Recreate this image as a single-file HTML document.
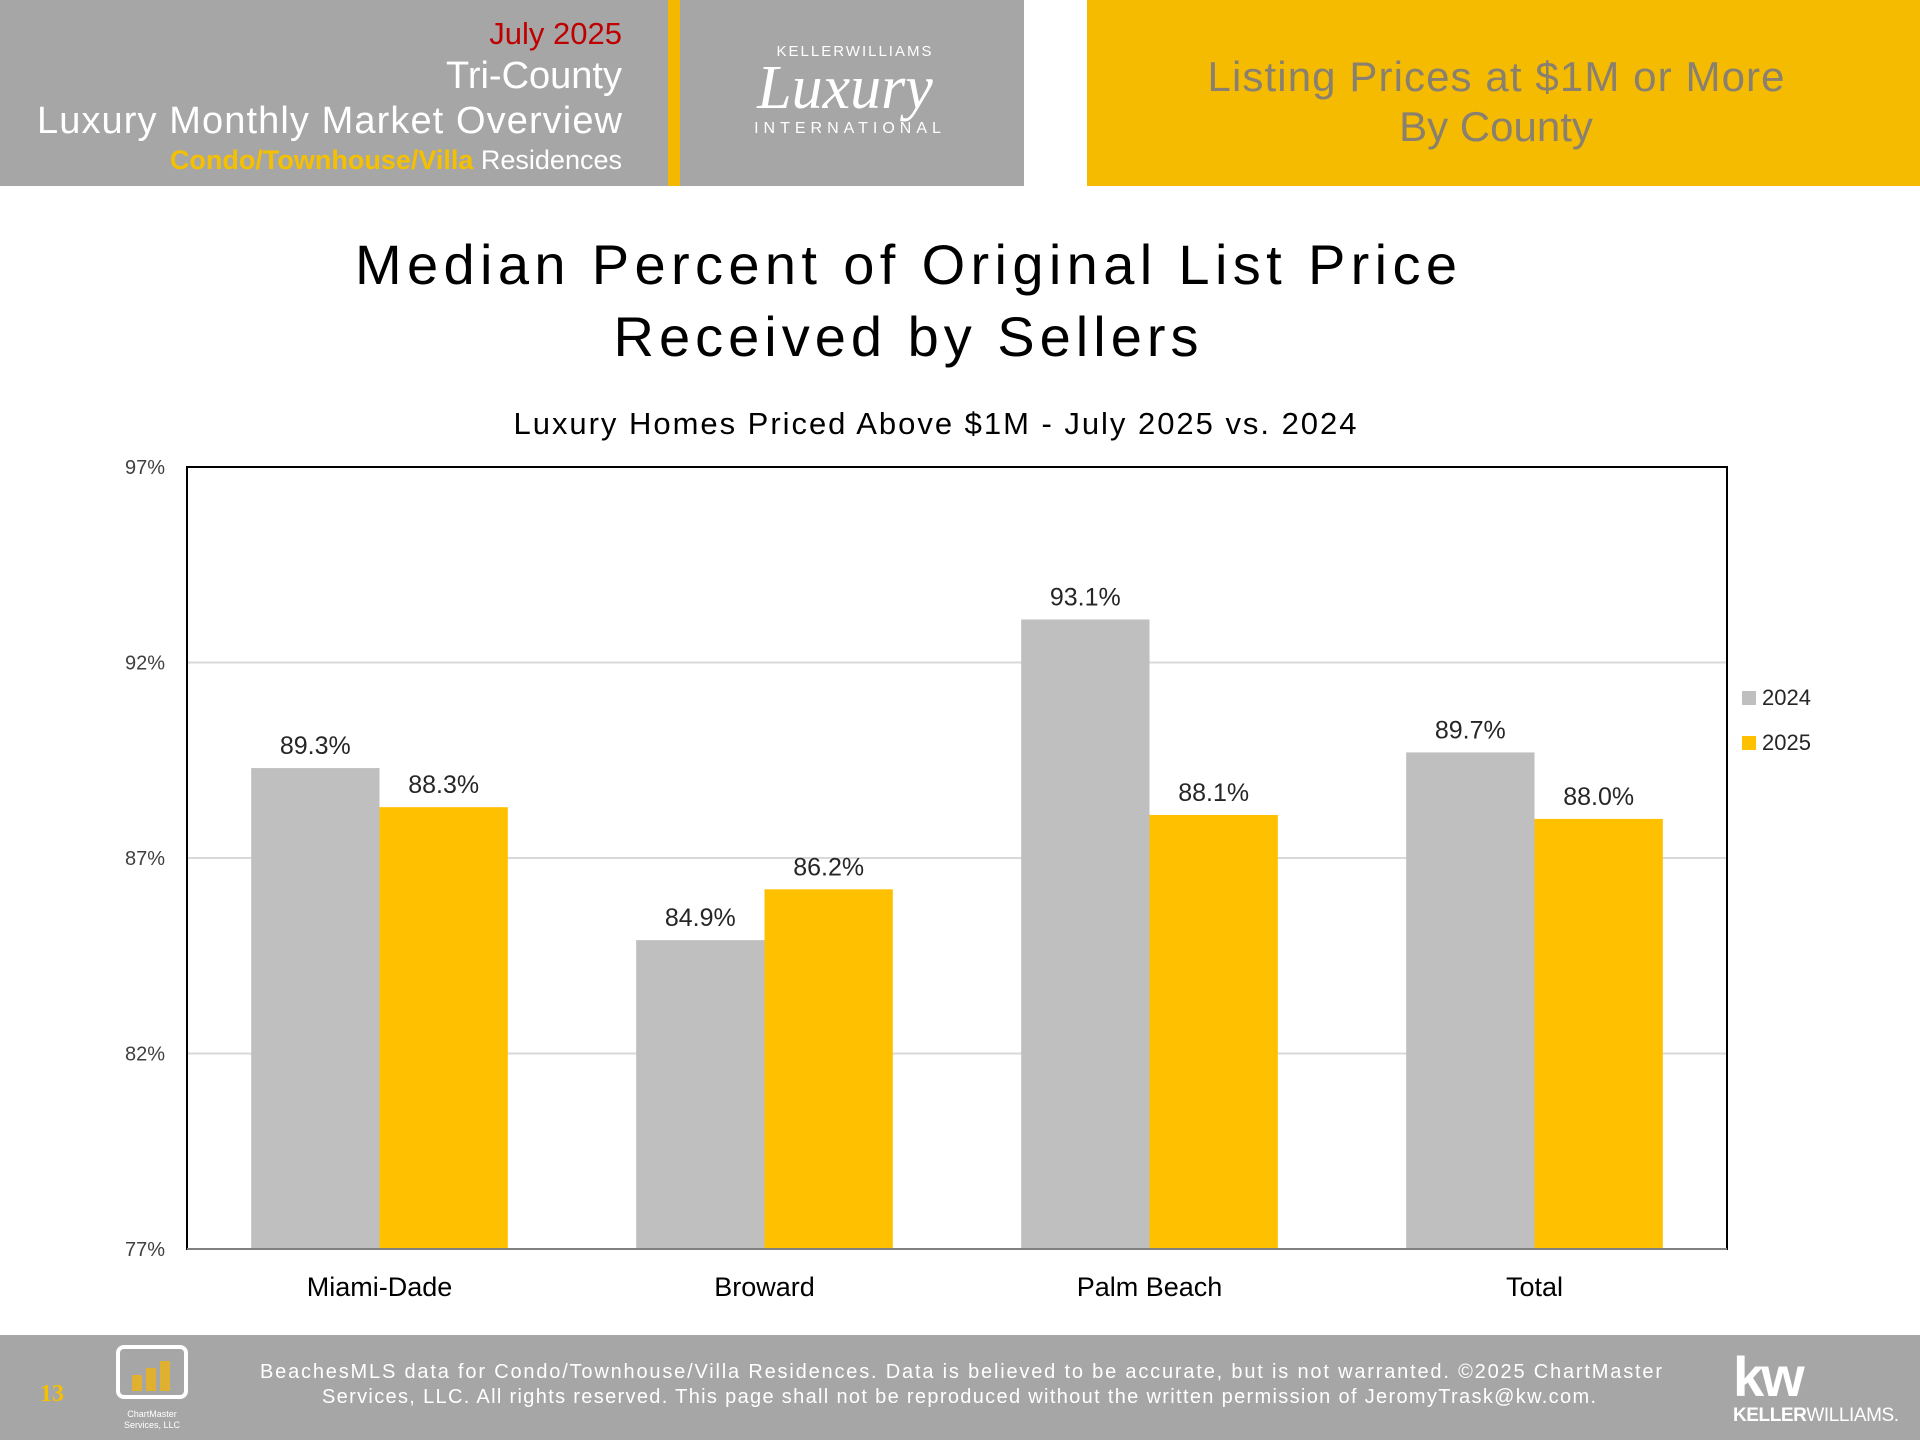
<!DOCTYPE html>
<html><head><meta charset="utf-8"><style>
html,body{margin:0;padding:0;background:#fff;}
svg{display:block;font-family:"Liberation Sans",sans-serif;}
</style></head><body>
<svg id="page" width="1920" height="1440" viewBox="0 0 1920 1440">
  <g>
    <rect x="0" y="0" width="1024" height="186" fill="#a6a6a6"/>
    <rect x="668" y="0" width="12" height="186" fill="#f5b800"/>
    <text x="622" y="44" text-anchor="end" font-size="31" fill="#c00000">July 2025</text>
    <text x="622" y="88" text-anchor="end" font-size="38" fill="#fff">Tri-County</text>
    <text x="622" y="133" text-anchor="end" font-size="38" fill="#fff" textLength="585">Luxury Monthly Market Overview</text>
    <text x="622" y="169" text-anchor="end" font-size="27" fill="#fff"><tspan fill="#f5c000" font-weight="bold">Condo/Townhouse/Villa</tspan> Residences</text>
    <g>
      <text x="855" y="56" text-anchor="middle" font-size="15" fill="#fff" letter-spacing="2">KELLER<tspan font-weight="normal">WILLIAMS</tspan></text>
      <text x="845" y="108" text-anchor="middle" font-size="62" fill="#fff" font-style="italic" font-family="'Liberation Serif',serif">Luxury</text>
      <text x="850" y="133" text-anchor="middle" font-size="16" fill="#fff" letter-spacing="5">INTERNATIONAL</text>
    </g>
    <rect x="1087" y="0" width="833" height="186" fill="#f5bb00"/>
    <text x="1496" y="91" text-anchor="middle" font-size="42" fill="#8a8070" textLength="577">Listing Prices at $1M or More</text>
    <text x="1496" y="141" text-anchor="middle" font-size="42" fill="#8a8070">By County</text>
  </g>

  <text x="906" y="284" text-anchor="middle" font-size="56" fill="#000" textLength="1102">Median Percent of Original List Price</text>
  <text x="906" y="356" text-anchor="middle" font-size="56" fill="#000" textLength="585">Received by Sellers</text>
  <text x="935" y="434" text-anchor="middle" font-size="31" fill="#000" textLength="843">Luxury Homes Priced Above $1M - July 2025 vs. 2024</text>

  <g id="chart"></g>

  <g>
    <rect x="0" y="1335" width="1920" height="105" fill="#a6a6a6"/>
    <text x="40" y="1401" font-size="24" fill="#f5c000" font-weight="bold" font-family="'Liberation Serif',serif">13</text>
    <g>
      <rect x="118" y="1347" width="68" height="50" rx="6" fill="none" stroke="#fff" stroke-width="4"/>
      <rect x="132" y="1375" width="10" height="16" fill="#e0b030"/>
      <rect x="146" y="1368" width="10" height="23" fill="#e0b030"/>
      <rect x="160" y="1361" width="10" height="30" fill="#e0b030"/>
      <text x="152" y="1417" text-anchor="middle" font-size="9" fill="#fff">ChartMaster</text>
      <text x="152" y="1428" text-anchor="middle" font-size="9" fill="#fff">Services, LLC</text>
    </g>
    <text x="961" y="1378" text-anchor="middle" font-size="20" fill="#fff" textLength="1402">BeachesMLS data for Condo/Townhouse/Villa Residences.  Data is believed to be accurate, but is not warranted.   ©2025  ChartMaster</text>
    <text x="959" y="1403" text-anchor="middle" font-size="20" fill="#fff" textLength="1274">Services, LLC.  All rights reserved. This page shall not be reproduced without the written permission of JeromyTrask@kw.com.</text>
    <g>
      <text x="1733" y="1396" font-size="56" fill="#fff" font-weight="bold" letter-spacing="-3">kw</text>
      <text x="1733" y="1421" font-size="19" fill="#fff" textLength="166"><tspan font-weight="bold">KELLER</tspan>WILLIAMS.</text>
    </g>
  </g>
</svg>
<script>
const categories = ["Miami-Dade", "Broward", "Palm Beach", "Total"];
const values2024 = [89.3, 84.9, 93.1, 89.7];
const values2025 = [88.3, 86.2, 88.1, 88.0];
const yTicks = [77, 82, 87, 92, 97];
const seriesNames = ["2024", "2025"];

const NS = "http://www.w3.org/2000/svg";
const plot = {x0: 187, x1: 1727, y0: 467, y1: 1249};
const yMin = 77, yMax = 97;
const yScale = v => plot.y1 - (v - yMin) / (yMax - yMin) * (plot.y1 - plot.y0);
const band = (plot.x1 - plot.x0) / categories.length;
const barW = band / 3;
const xBand = i => plot.x0 + i * band;
const chart = document.getElementById("chart");
function mk(tag, attrs, text) {
  const e = document.createElementNS(NS, tag);
  for (const k in attrs) e.setAttribute(k, attrs[k]);
  if (text !== undefined) e.textContent = text;
  chart.appendChild(e);
  return e;
}
yTicks.forEach(t => {
  const y = yScale(t);
  const g = mk("line", {x1: plot.x0, x2: plot.x1, y1: y, y2: y, stroke: "#d9d9d9", "stroke-width": 2});
  
  
  const l = mk("text", {x: plot.x0 - 22, y: y + 7, "text-anchor": "end", "font-size": 20, fill: "#404040"}, t + "%");
  
  
});
const colors = ["#bfbfbf", "#ffc000"];
[values2024, values2025].forEach((vals, s) => {
  vals.forEach((v, i) => {
    const x = xBand(i) + barW / 2 + s * barW;
    const y = yScale(v);
    const b = mk("rect", {x: x, y: y, width: barW, height: plot.y1 - y, fill: colors[s]});
    
    
    const t = mk("text", {x: x + barW / 2, y: y - 14, "text-anchor": "middle", "font-size": 25, fill: "#262626"}, v.toFixed(1) + "%");
    
    
  });
});
const frame = mk("rect", {x: plot.x0, y: plot.y0, width: plot.x1 - plot.x0, height: plot.y1 - plot.y0, fill: "none", stroke: "#000", "stroke-width": 2});


const ax = mk("line", {x1: plot.x0, x2: plot.x1, y1: plot.y1, y2: plot.y1, stroke: "#808080", "stroke-width": 2});


categories.forEach((c, i) => {
  const t = mk("text", {x: xBand(i) + band / 2, y: 1296, "text-anchor": "middle", "font-size": 27, fill: "#000"}, c);
  
  
});
seriesNames.forEach((n, s) => {
  const y = 699 + s * 45;
  const r = mk("rect", {x: 1742, y: y - 8, width: 14, height: 14, fill: colors[s]});
  
  
  const t = mk("text", {x: 1762, y: y + 6, "font-size": 22, fill: "#262626"}, n);
  
  
});
</script>
</body></html>
